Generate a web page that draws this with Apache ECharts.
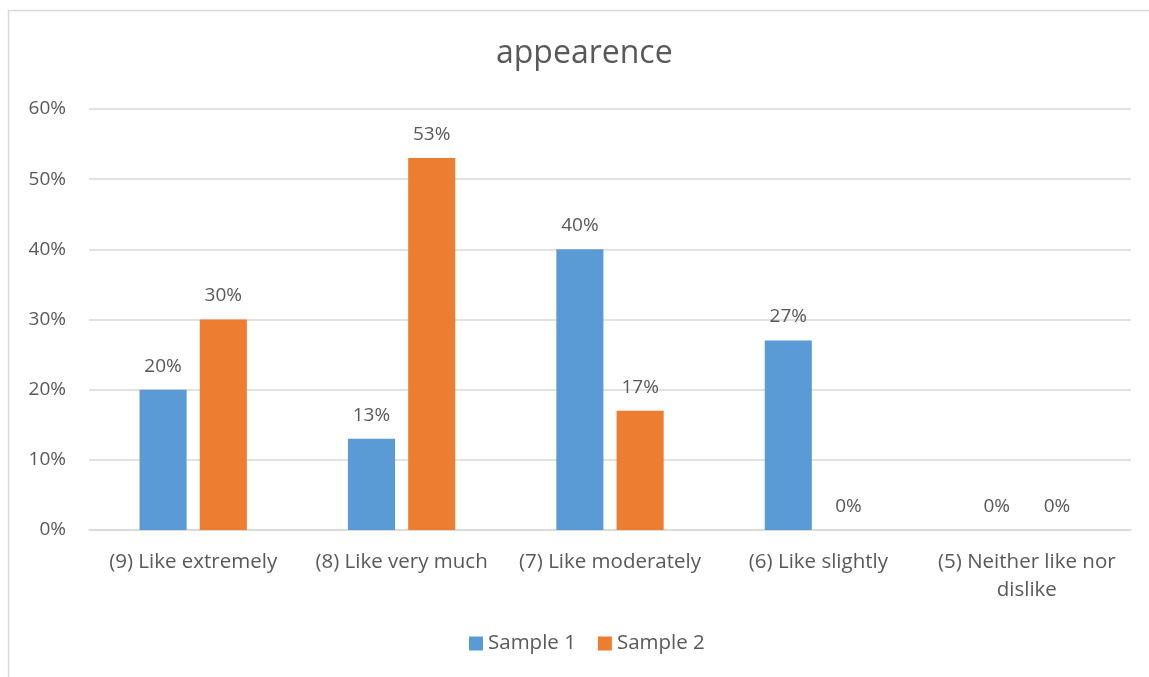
<!DOCTYPE html>
<html>
<head>
<meta charset="utf-8">
<script src="https://cdn.jsdelivr.net/npm/echarts@6/dist/echarts.min.js"></script>
<style>
  html, body { margin: 0; padding: 0; background: #fff; }
  #chart { width: 1149px; height: 677px; }
</style>
</head>
<body>
<div id="chart"></div>
<script>
// Sensory rating categories and the share of panelists per rating
const categories = [
  '(9) Like extremely',
  '(8) Like very much',
  '(7) Like moderately',
  '(6) Like slightly',
  '(5) Neither like nor\ndislike'
];
const sample1 = [20, 13, 40, 27, 0];
const sample2 = [30, 53, 17, 0, 0];
const yTicks = [0, 10, 20, 30, 40, 50, 60];

const FONT = '"Open Sans", "Noto Sans", sans-serif';
const TEXT = '#595959';
const GRID = '#d9d9d9';

const chart = echarts.init(document.getElementById('chart'), null, { renderer: 'canvas' });

const labelOpt = {
  show: true,
  position: 'top',
  distance: 14,
  color: TEXT,
  fontFamily: FONT,
  fontSize: 19,
  formatter: p => p.value + '%'
};

chart.setOption({
  animation: false,
  backgroundColor: '#fff',
  graphic: [{
    type: 'rect',
    shape: { x: 8.5, y: 10.5, width: 1200, height: 700 },
    style: { fill: 'none', stroke: GRID, lineWidth: 1.5 },
    silent: true
  }],
  title: {
    text: 'appearence',
    left: 491,
    top: 33,
    textStyle: { color: TEXT, fontFamily: FONT, fontWeight: 'normal', fontSize: 32 }
  },
  legend: {
    bottom: 18,
    left: 464,
    itemWidth: 14,
    itemHeight: 14,
    itemGap: 22,
    icon: 'rect',
    textStyle: { color: TEXT, fontFamily: FONT, fontSize: 20.5 },
    data: ['Sample 1', 'Sample 2']
  },
  grid: { left: 89, right: 18, top: 109, bottom: 147, containLabel: false },
  xAxis: {
    type: 'category',
    data: categories,
    axisLine: { show: true, lineStyle: { color: GRID, width: 1.5 } },
    axisTick: { show: false },
    axisLabel: {
      color: TEXT, fontFamily: FONT, fontSize: 20.5, margin: 18,
      interval: 0, lineHeight: 28
    }
  },
  yAxis: {
    type: 'value',
    min: yTicks[0],
    max: yTicks[yTicks.length - 1],
    interval: 10,
    axisLine: { show: false },
    axisTick: { show: false },
    splitLine: { lineStyle: { color: GRID, width: 1.5 } },
    axisLabel: {
      color: TEXT, fontFamily: FONT, fontSize: 19, margin: 23,
      formatter: v => v + '%'
    }
  },
  series: [
    {
      name: 'Sample 1',
      type: 'bar',
      data: sample1,
      itemStyle: { color: '#5b9bd5' },
      barGap: '28%',
      barCategoryGap: '48.5%',
      label: labelOpt
    },
    {
      name: 'Sample 2',
      type: 'bar',
      data: sample2,
      itemStyle: { color: '#ed7d31' },
      barGap: '28%',
      barCategoryGap: '48.5%',
      label: labelOpt
    }
  ]
});
</script>
</body>
</html>
